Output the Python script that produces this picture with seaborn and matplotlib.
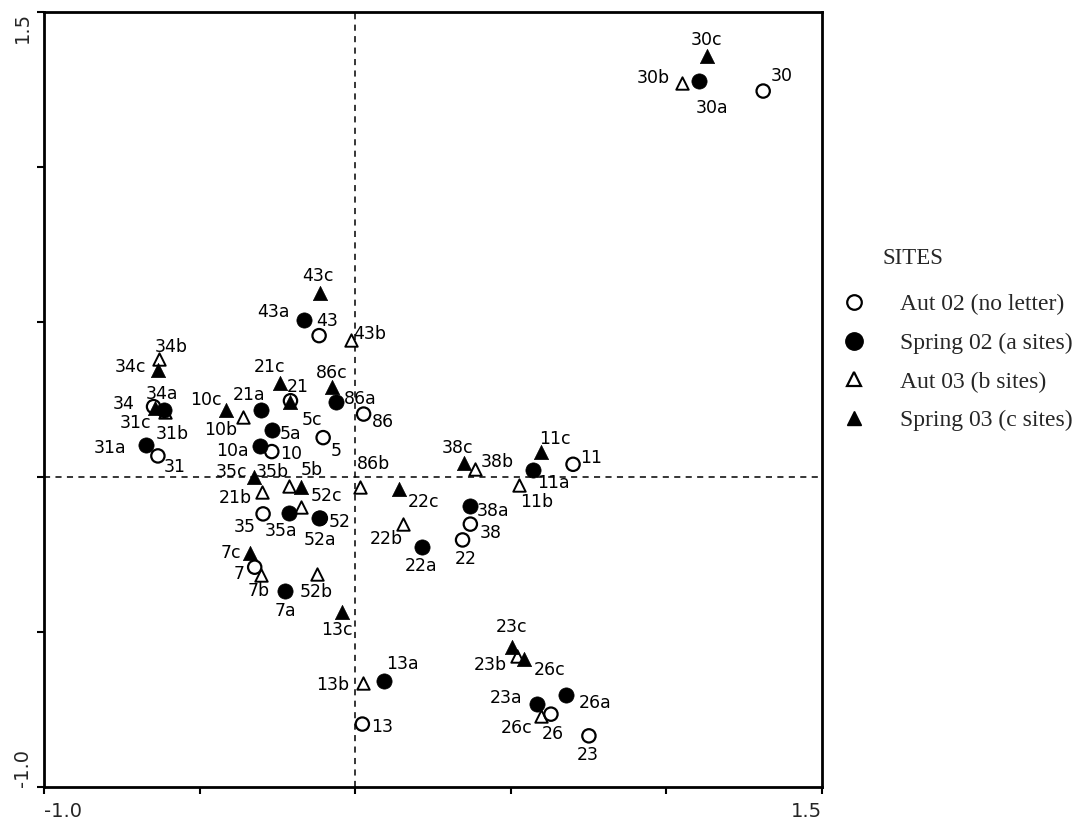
import matplotlib
matplotlib.use("Agg")
import matplotlib.pyplot as plt
from matplotlib.lines import Line2D
import pandas as pd
import seaborn as sns

# ---- site scores on the first two ordination axes ----
aut02_labels = ["30", "43", "34", "21", "86", "5", "31", "10", "11", "35", "52",
                "38", "22", "7", "13", "26", "23"]
aut02_x = [1.311, -0.116, -0.648, -0.208, 0.027, -0.103, -0.634, -0.268, 0.700,
           -0.296, -0.112, 0.370, 0.345, -0.323, 0.023, 0.629, 0.751]
aut02_y = [1.245, 0.456, 0.227, 0.246, 0.203, 0.127, 0.068, 0.082, 0.041,
           -0.119, -0.133, -0.152, -0.203, -0.291, -0.797, -0.765, -0.835]

spring02_labels = ["30a", "43a", "34a", "86a", "21a", "5a", "31a", "10a", "11a",
                   "38a", "35a", "52a", "22a", "7a", "13a", "23a", "26a"]
spring02_x = [1.105, -0.166, -0.616, -0.063, -0.302, -0.266, -0.673, -0.307, 0.570,
              0.368, -0.213, -0.117, 0.215, -0.226, 0.094, 0.585, 0.677]
spring02_y = [1.278, 0.506, 0.216, 0.241, 0.216, 0.150, 0.102, 0.099, 0.023,
              -0.094, -0.115, -0.133, -0.227, -0.367, -0.657, -0.732, -0.703]

aut03_labels = ["30b", "43b", "34b", "10b", "31b", "38b", "11b", "35b", "86b",
                "21b", "5b", "22b", "7b", "52b", "13b", "23b", "26c"]
aut03_x = [1.049, -0.012, -0.629, -0.361, -0.610, 0.385, 0.527, -0.213, 0.017,
           -0.299, -0.173, 0.155, -0.302, -0.123, 0.026, 0.521, 0.596]
aut03_y = [1.272, 0.442, 0.380, 0.195, 0.210, 0.025, -0.026, -0.030, -0.031,
           -0.050, -0.096, -0.153, -0.316, -0.314, -0.665, -0.577, -0.771]

spring03_labels = ["30c", "43c", "34c", "21c", "86c", "10c", "5c", "31c", "11c",
                   "38c", "35c", "52c", "22c", "7c", "13c", "23c", "26c"]
spring03_x = [1.129, -0.114, -0.634, -0.243, -0.075, -0.416, -0.211, -0.642, 0.596,
              0.349, -0.326, -0.173, 0.141, -0.337, -0.041, 0.503, 0.544]
spring03_y = [1.358, 0.593, 0.345, 0.303, 0.291, 0.216, 0.243, 0.222, 0.082,
              0.044, 0.001, -0.031, -0.039, -0.246, -0.436, -0.547, -0.588]

legend_labels = ["Aut 02 (no letter)", "Spring 02 (a sites)",
                 "Aut 03 (b sites)", "Spring 03 (c sites)"]

# ---- label placement (pixel offsets from each marker) ----
aut02_offsets = [(19, 15), (8, 15), (-30, 3), (7, 14), (19, -8), (13, -13), (17, -11),
                 (19, -2), (18, 6), (-18, -13), (19, -4), (20, -9), (3, -19),
                 (-16, -7), (20, -3), (2, -20), (-1, -19)]
spring02_offsets = [(13, -27), (-30, 8), (-2, 16), (25, 3), (-12, 15), (18, -3),
                    (-36, -3), (-27, -5), (21, -13), (23, -5), (-8, -18), (1, -22),
                    (-1, -19), (1, -20), (18, 17), (-31, 6), (29, -8)]
aut03_offsets = [(-28, 5), (18, 6), (12, 12), (-22, -13), (7, -22), (22, 7), (17, -17),
                 (-17, 14), (13, 23), (-27, -5), (10, 37), (-17, -15), (-3, -16),
                 (-1, -18), (-31, -2), (-27, -9), (-24, -12)]
spring03_offsets = [(0, 16), (-2, 17), (-27, 3), (-10, 16), (0, 14), (-20, 10),
                    (22, -18), (-20, -15), (14, 13), (-6, 15), (-22, 5), (25, -9),
                    (24, -13), (-19, 0), (-6, -18), (0, 20), (25, -11)]

sns.set_theme(style="white")
plt.rcParams["font.family"] = ["DejaVu Sans"]

fig = plt.figure(figsize=(10.89, 8.22), dpi=100)
ax = fig.add_axes([44 / 1089, 35 / 822, 778 / 1089, 775 / 822])

groups = [
    (aut03_x, aut03_y, aut03_labels, aut03_offsets,
     dict(marker="^", s=80, facecolor="white", edgecolor="black", linewidth=1.4), 2),
    (spring03_x, spring03_y, spring03_labels, spring03_offsets,
     dict(marker="^", s=105, color="black", edgecolor="black", linewidth=0.5), 3),
    (aut02_x, aut02_y, aut02_labels, aut02_offsets,
     dict(marker="o", s=92, facecolor="none", edgecolor="black", linewidth=1.6), 4),
    (spring02_x, spring02_y, spring02_labels, spring02_offsets,
     dict(marker="o", s=120, color="black", edgecolor="black", linewidth=0.5), 5),
]

for xs, ys, labs, offs, style, z in groups:
    df = pd.DataFrame({"axis1": xs, "axis2": ys, "site": labs})
    sns.scatterplot(data=df, x="axis1", y="axis2", ax=ax, legend=False,
                    zorder=z, **style)
    for xv, yv, lab, off in zip(xs, ys, labs, offs):
        ax.annotate(lab, (xv, yv), xytext=off, textcoords="offset pixels",
                    ha="center", va="center", fontsize=12.5, color="black", zorder=6)

# reference lines through the origin
ax.axhline(0, color="black", linestyle=(0, (4, 3.5)), linewidth=1.1, zorder=1)
ax.axvline(0, color="black", linestyle=(0, (4, 3.5)), linewidth=1.1, zorder=1)

ax.set_xlim(-1.0, 1.5)
ax.set_ylim(-1.0, 1.5)
ticks = [-1.0, -0.5, 0.0, 0.5, 1.0, 1.5]
ax.set_xticks(ticks)
ax.set_yticks(ticks)
ax.set_xticklabels(["-1.0", "", "", "", "", "1.5"], fontsize=14)
ax.set_yticklabels(["-1.0", "", "", "", "", "1.5"], fontsize=14, rotation=90)
xt = ax.get_xticklabels()
xt[0].set_ha("left")
xt[-1].set_ha("right")
yt = ax.get_yticklabels()
yt[0].set_va("bottom")
yt[-1].set_va("top")
ax.tick_params(axis="both", direction="out", length=5, width=1.5, color="black",
               bottom=True, left=True)
ax.tick_params(axis="x", pad=6)
ax.tick_params(axis="y", pad=4)
ax.set_xlabel("")
ax.set_ylabel("")
for sp in ax.spines.values():
    sp.set_visible(True)
    sp.set_color("black")
    sp.set_linewidth(2.0)

# legend
serif = ["Liberation Serif", "DejaVu Serif"]
handles = [
    Line2D([], [], linestyle="none", marker="o", markersize=10.5, markerfacecolor="white",
           markeredgecolor="black", markeredgewidth=1.6),
    Line2D([], [], linestyle="none", marker="o", markersize=12.5, markerfacecolor="black",
           markeredgecolor="black"),
    Line2D([], [], linestyle="none", marker="^", markersize=9.5, markerfacecolor="white",
           markeredgecolor="black", markeredgewidth=1.6),
    Line2D([], [], linestyle="none", marker="^", markersize=10.5, markerfacecolor="black",
           markeredgecolor="black"),
]
fig.text(882 / 1089, 1 - 258 / 822, "SITES", ha="left", va="center",
         fontsize=16.5, family=serif)
fig.legend(handles, legend_labels, loc="upper left",
           bbox_to_anchor=(842 / 1089, 1 - 294 / 822), frameon=False,
           borderpad=0, borderaxespad=0, handlelength=1.0, handletextpad=1.45,
           labelspacing=0.72, prop={"family": serif, "size": 17})

fig.savefig("out.png", dpi=100, facecolor="white")
